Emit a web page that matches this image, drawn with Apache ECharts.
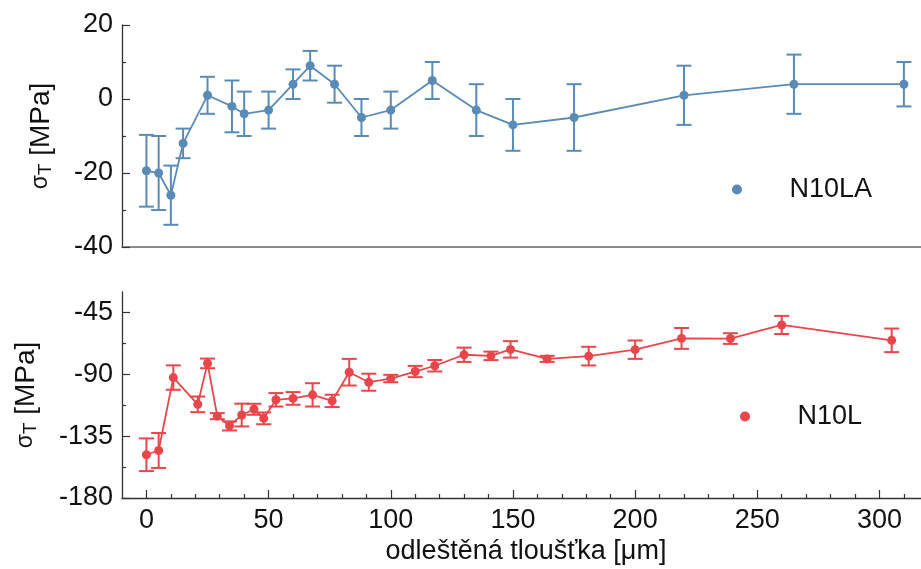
<!DOCTYPE html>
<html><head><meta charset="utf-8">
<script src="https://cdn.jsdelivr.net/npm/echarts@6/dist/echarts.min.js"></script>
<style>html,body{margin:0;padding:0;background:#fff}#c{width:921px;height:569px}</style>
</head><body><div id="c"></div>
<script>
// ---- data ----
const topName = 'N10LA';
const topX = [0, 5, 10, 15, 25, 35, 40, 50, 60, 67, 77, 88, 100, 117, 135, 150, 175, 220, 265, 310];
const topY = [-19.4, -20, -26, -12, 1, -2, -4, -3, 4, 9, 4, -5, -3, 5, -3, -7, -5, 1, 4, 4];
const topErr = [9.7, 10, 8, 4, 5, 7, 6, 5, 4, 4, 5, 5, 5, 5, 7, 7, 9, 8, 8, 6];

const botName = 'N10L';
const botX = [0, 5, 11, 21, 25, 29, 34, 39, 44, 48, 53, 60, 68, 76, 83, 91, 100, 110, 118, 130, 141, 149, 164, 181, 200, 219, 239, 260, 305];
const botY = [-148.5, -145.4, -92.3, -111.8, -82, -120.4, -127.5, -119.6, -115.4, -122, -108.5, -107.5, -104.9, -109.3, -88.4, -95.7, -93, -87.9, -83.7, -75.7, -76.5, -71.8, -78.7, -76.7, -72, -63.8, -63.9, -54, -65.2];
const botErr = [11.9, 12.7, 8.9, 5.7, 3.5, 2.2, 3.3, 8.3, 4, 4.3, 4.9, 4.6, 8.5, 4.5, 9.7, 6.2, 2.7, 4.1, 4.2, 5.2, 3.1, 6, 2.2, 6.8, 6.7, 7.6, 3.9, 6.6, 8.6];

const xTicks = [0, 50, 100, 150, 200, 250, 300];
const xMinorTicks = [10, 20, 30, 40, 60, 70, 80, 90, 110, 120, 130, 140, 160, 170, 180, 190, 210, 220, 230, 240, 260, 270, 280, 290, 310];
const topYTicks = [-40, -20, 0, 20];
const topYMinor = [-30, -10, 10];
const botYTicks = [-180, -135, -90, -45];
const botYMinor = [-157.5, -112.5, -67.5];
const xTitle = 'odleštěná tloušťka [μm]';

// ---- style ----
const FONT = '"Liberation Sans", Arial, sans-serif';
const BLUE = '#5a8bb6';
const RED = '#e8464b';
const AX = '#333';

const chart = echarts.init(document.getElementById('c'));

function errSeries(xs, ys, es, color, xi, yi) {
  return {
    type: 'custom', xAxisIndex: xi, yAxisIndex: yi, silent: true, z: 1,
    data: xs.map((x, i) => [x, ys[i] - es[i], ys[i] + es[i]]),
    encode: { x: 0, y: [1, 2] },
    renderItem: (params, api) => {
      const lo = api.coord([api.value(0), api.value(1)]);
      const hi = api.coord([api.value(0), api.value(2)]);
      const w = 7.5;
      const st = { stroke: color, lineWidth: 2 };
      return { type: 'group', children: [
        { type: 'line', shape: { x1: lo[0], y1: lo[1], x2: hi[0], y2: hi[1] }, style: st },
        { type: 'line', shape: { x1: lo[0] - w, y1: lo[1], x2: lo[0] + w, y2: lo[1] }, style: st },
        { type: 'line', shape: { x1: hi[0] - w, y1: hi[1], x2: hi[0] + w, y2: hi[1] }, style: st }
      ]};
    }
  };
}
function lineSeries(name, xs, ys, color, xi, yi) {
  return {
    type: 'line', name, xAxisIndex: xi, yAxisIndex: yi, z: 3,
    data: xs.map((x, i) => [x, ys[i]]),
    symbol: 'circle', symbolSize: 9, showSymbol: true,
    itemStyle: { color }, lineStyle: { color, width: 1.8 },
    animation: false
  };
}
const nameRich = {
  s: { fontSize: 23, lineHeight: 23, verticalAlign: 'bottom', padding: [0, 0, 3, 0], fontFamily: FONT, color: '#111' },
  t: { fontSize: 19, lineHeight: 19, verticalAlign: 'bottom', fontFamily: FONT, color: '#111' },
  b: { fontSize: 28, lineHeight: 28, verticalAlign: 'top', padding: [0, 0, 8, 0], fontFamily: FONT, color: '#111' }
};
const yNameText = '{s|σ}{t|T} {b|[MPa]}';

const xRange = { min: -10, max: 317 };
function yMain(gi, min, max, interval, ticks) {
  return {
    type: 'value', gridIndex: gi, position: 'left', min, max, interval,
    axisLine: { show: true, onZero: false, lineStyle: { color: AX, width: 1.3 } },
    axisTick: { show: true, inside: true, length: 8, customValues: ticks, lineStyle: { color: AX, width: 1.2 } },
    axisLabel: { show: true, customValues: ticks, margin: 9, fontSize: 27, color: '#111', fontFamily: FONT },
    splitLine: { show: false },
    name: yNameText, nameLocation: 'middle', nameGap: 63,
    nameTextStyle: { rich: nameRich, fontFamily: FONT, fontSize: 28, color: '#111' }
  };
}
function yMinor(gi, min, max, ticks) {
  return {
    type: 'value', gridIndex: gi, position: 'left', min, max,
    axisLine: { show: false, onZero: false },
    axisTick: { show: true, inside: true, length: 4, customValues: ticks, lineStyle: { color: AX, width: 1.2 } },
    axisLabel: { show: false }, splitLine: { show: false }
  };
}

const option = {
  backgroundColor: '#fff',
  animation: false,
  textStyle: { fontFamily: FONT },
  grid: [
    { left: 122, right: 0, top: 25, height: 222 },
    { left: 122, right: 0, top: 292, height: 206 }
  ],
  xAxis: [
    { type: 'value', gridIndex: 0, ...xRange,
      axisLine: { show: true, onZero: false, lineStyle: { color: '#8c8c8c', width: 2 } },
      axisTick: { show: false }, axisLabel: { show: false }, splitLine: { show: false } },
    { type: 'value', gridIndex: 1, ...xRange, position: 'bottom',
      axisLine: { show: true, onZero: false, lineStyle: { color: AX, width: 1.3 } },
      axisTick: { show: true, inside: true, length: 4, customValues: xMinorTicks, lineStyle: { color: AX, width: 1.2 } },
      axisLabel: { show: true, customValues: xTicks, margin: 9, fontSize: 27, color: '#111', fontFamily: FONT },
      splitLine: { show: false },
      name: xTitle, nameLocation: 'middle', nameGap: 40,
      nameTextStyle: { fontSize: 27, color: '#111', fontFamily: FONT, padding: [0, 0, 0, 9] } },
    { type: 'value', gridIndex: 1, ...xRange, position: 'bottom',
      axisLine: { show: false, onZero: false },
      axisTick: { show: true, inside: true, length: 8, customValues: xTicks, lineStyle: { color: AX, width: 1.2 } },
      axisLabel: { show: false }, splitLine: { show: false } }
  ],
  yAxis: [
    yMain(0, -40, 20, 20, topYTicks),
    yMinor(0, -40, 20, topYMinor),
    yMain(1, -180, -30, 45, botYTicks),
    yMinor(1, -180, -30, botYMinor)
  ],
  legend: [
    { data: [topName], left: 727, top: 171, icon: 'circle', itemWidth: 95, itemHeight: 10, selectedMode: false,
      textStyle: { fontSize: 27, color: '#111', fontFamily: FONT } },
    { data: [botName], left: 735, top: 398, icon: 'circle', itemWidth: 95, itemHeight: 10, selectedMode: false,
      textStyle: { fontSize: 27, color: '#111', fontFamily: FONT } }
  ],
  series: [
    errSeries(topX, topY, topErr, BLUE, 0, 0),
    lineSeries(topName, topX, topY, BLUE, 0, 0),
    errSeries(botX, botY, botErr, RED, 1, 2),
    lineSeries(botName, botX, botY, RED, 1, 2)
  ]
};
chart.setOption(option);
</script>
</body></html>
